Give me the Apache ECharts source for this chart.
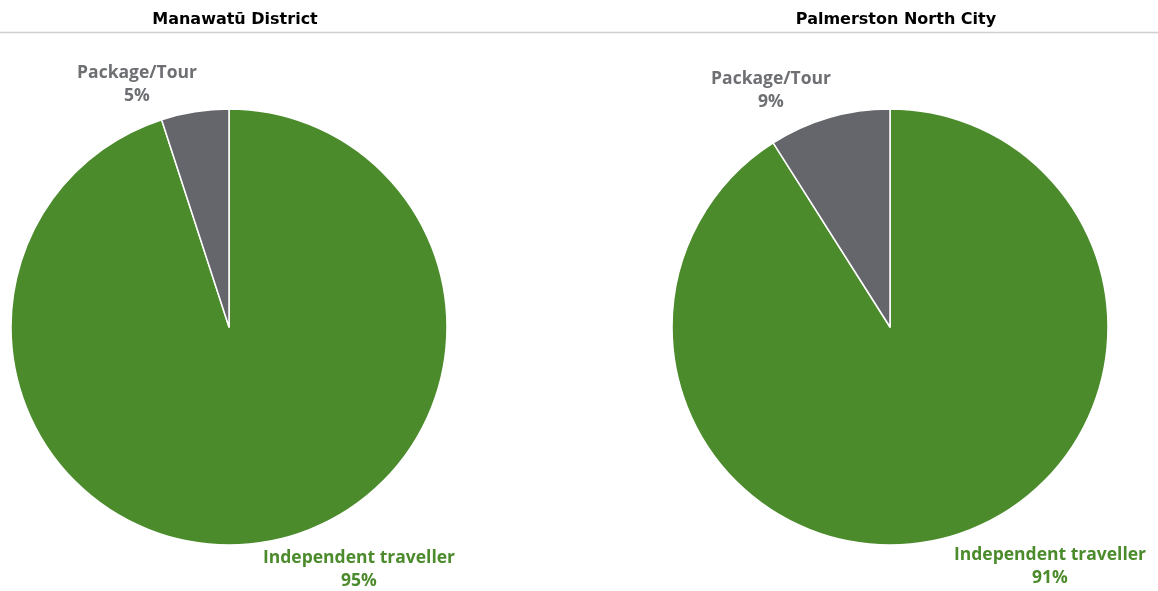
<!DOCTYPE html>
<html>
<head>
<meta charset="utf-8">
<script src="https://cdn.jsdelivr.net/npm/echarts@6/dist/echarts.min.js"></script>
<style>
  html, body { margin: 0; padding: 0; background: #ffffff; }
  #chart { width: 1158px; height: 591px; }
</style>
</head>
<body>
<div id="chart"></div>
<script>
// Travel type share by region
const regions = ['Manawatū District', 'Palmerston North City'];
const categories = ['Independent traveller', 'Package/Tour'];
const manawatuValues = [95, 5];
const palmerstonValues = [91, 9];

const GREEN = '#4b8b2c';
const GREY = '#64666b';
const GREY_TEXT = '#6d6f73';

const centers = [[229, 327], [890, 327]];
// label anchor points [independent, package] per pie
const labelSpots = [
  [[359, 570], [137, 85]],
  [[1050, 567], [771, 91]]
];

function pieData(values) {
  return categories.map((name, i) => ({
    name: name,
    value: values[i],
    itemStyle: { color: i === 0 ? GREEN : GREY },
    label: { color: i === 0 ? GREEN : GREY_TEXT }
  }));
}

function pieSeries(idx, values) {
  return {
    type: 'pie',
    center: centers[idx],
    radius: 218,
    startAngle: 90,
    clockwise: true,
    animation: false,
    silent: true,
    data: pieData(values),
    itemStyle: { borderColor: '#ffffff', borderWidth: 1.5 },
    label: {
      show: true,
      position: 'outside',
      formatter: '{b}\n{c}%',
      fontFamily: 'Open Sans',
      fontWeight: 'bold',
      fontSize: 17.5,
      lineHeight: 23,
      align: 'center',
      overflow: 'none',
      width: 260
    },
    labelLine: { show: false },
    labelLayout: function (p) {
      const spot = labelSpots[idx][p.dataIndex];
      return { x: spot[0], y: spot[1], align: 'center', verticalAlign: 'middle' };
    }
  };
}

const chart = echarts.init(document.getElementById('chart'), null, { renderer: 'canvas' });
chart.setOption({
  backgroundColor: '#ffffff',
  title: regions.map((r, i) => ({
    text: r,
    left: centers[i][0] + 1,
    top: 7,
    textAlign: 'center',
    textStyle: { fontFamily: 'DejaVu Sans', fontWeight: 'bold', fontSize: 16, color: '#000000' }
  })),
  graphic: [{
    type: 'line',
    shape: { x1: 0, y1: 32.5, x2: 1158, y2: 32.5 },
    style: { stroke: '#cfcfcf', lineWidth: 1.5 },
    silent: true
  }],
  series: [pieSeries(0, manawatuValues), pieSeries(1, palmerstonValues)]
});
</script>
</body>
</html>
